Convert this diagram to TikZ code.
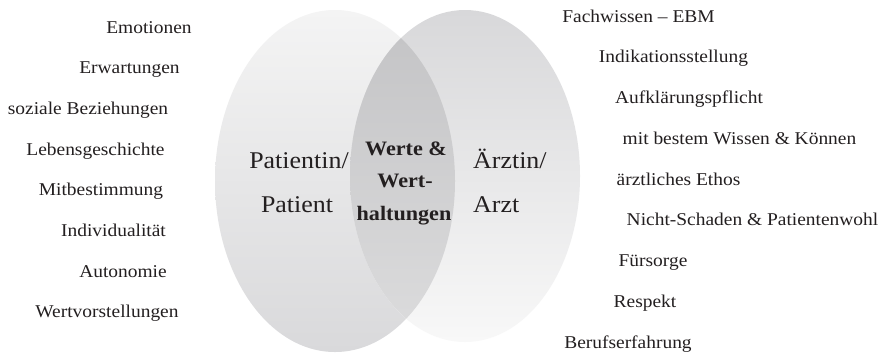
\documentclass[tikz,border=0pt]{standalone}
\usepackage{fontspec}
\setmainfont[FakeStretch=1.08]{Liberation Serif}
\begin{document}
\begin{tikzpicture}[x=1pt,y=-1pt,
  side/.style={anchor=base,inner sep=0pt,text=txtc,font=\fontsize{18}{20}\selectfont},
  big/.style={anchor=base,inner sep=0pt,text=txtc,font=\fontsize{24}{26}\selectfont},
  mid/.style={anchor=base,inner sep=0pt,text=txtc,font=\fontsize{20.5}{22}\selectfont\bfseries}]
\definecolor{txtc}{HTML}{231F20}
\definecolor{lt}{HTML}{F4F4F4}
\definecolor{lm}{HTML}{DCDCDE}
\definecolor{lb}{HTML}{D9D9DB}
\definecolor{rt}{HTML}{D8D8DA}
\definecolor{rm}{HTML}{E2E2E3}
\definecolor{rb}{HTML}{F8F8F8}
\definecolor{ot}{HTML}{C3C3C5}
\definecolor{om}{HTML}{CACACC}
\definecolor{ob}{HTML}{DCDCDD}
\useasboundingbox (0,0) rectangle (890,354);
\fill[white] (0,0) rectangle (890,354);
% ellipses
\shade[top color=lt,middle color=lm,bottom color=lb] (335,181) ellipse [x radius=120pt,y radius=171pt];
\shade[top color=rt,middle color=rm,bottom color=rb] (465,176) ellipse [x radius=115pt,y radius=166pt];
\begin{scope}
\clip (335,181) ellipse [x radius=120pt,y radius=171pt];
\shade[top color=ot,middle color=om,bottom color=ob] (465,176) ellipse [x radius=115pt,y radius=166pt];
\end{scope}
% centre labels
\node[big] (p1) at (299,168) {Patientin/};
\node[big] (p2) at (297,212) {Patient};
\node[big,anchor=base west] (a1) at (473,168) {Ärztin/};
\node[big,anchor=base west] (a2) at (473,212) {Arzt};
\node[mid] (w1) at (406,155) {Werte \&};
\node[mid] (w2) at (405,187.5) {Wert-};
\node[mid] (w3) at (404,220) {haltungen};
% left column
\node[side] (l1) at (149,33) {Emotionen};
\node[side] (l2) at (129.5,73.7) {Erwartungen};
\node[side] (l3) at (88,114.4) {soziale Beziehungen};
\node[side] (l4) at (95.5,155.1) {Lebensgeschichte};
\node[side] (l5) at (101,195.8) {Mitbestimmung};
\node[side] (l6) at (113.5,236.5) {Individualität};
\node[side] (l7) at (123,277.2) {Autonomie};
\node[side] (l8) at (107,317.9) {Wertvorstellungen};
% right column
\node[side] (r1) at (638.5,22) {Fachwissen – EBM};
\node[side] (r2) at (673.5,62.75) {Indikationsstellung};
\node[side] (r3) at (689,103.5) {Aufklärungspflicht};
\node[side] (r4) at (739.5,144.25) {mit bestem Wissen \& Können};
\node[side] (r5) at (678.5,185) {ärztliches Ethos};
\node[side] (r6) at (752.5,225.75) {Nicht-Schaden \& Patientenwohl};
\node[side] (r7) at (653,266.5) {Fürsorge};
\node[side] (r8) at (645,307.25) {Respekt};
\node[side] (r9) at (628,348) {Berufserfahrung};
\end{tikzpicture}
\end{document}
